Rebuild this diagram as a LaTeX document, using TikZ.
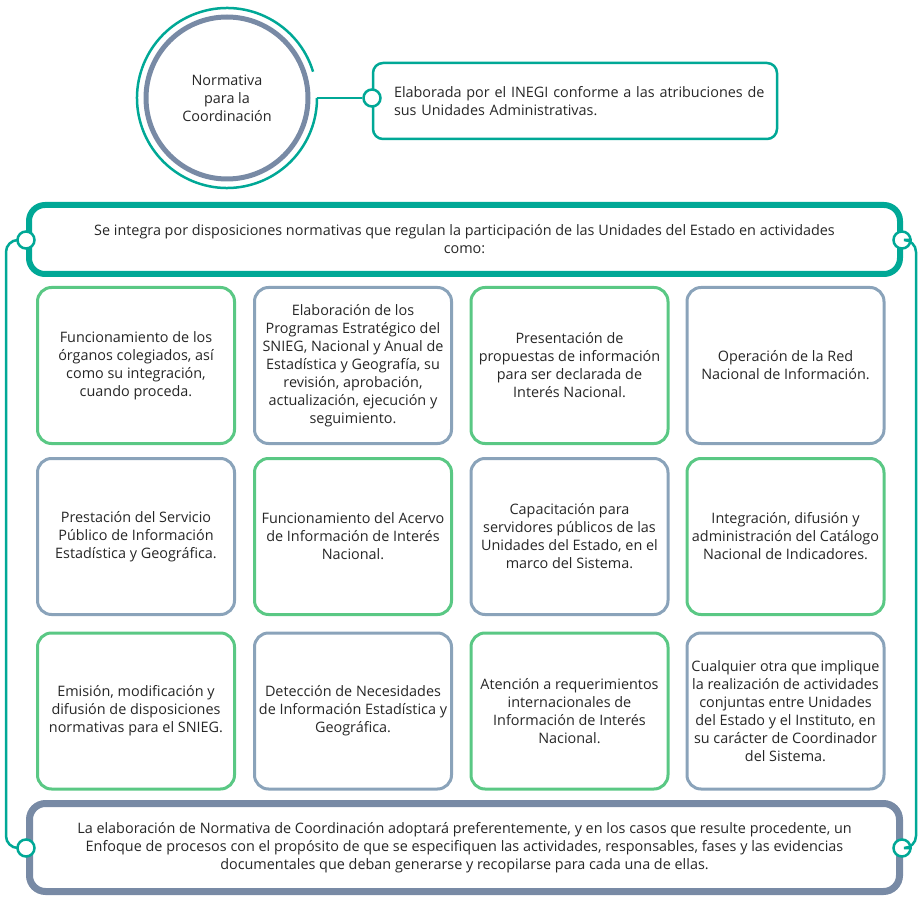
\documentclass[tikz,border=0pt]{standalone}
\usepackage{fontspec}
\setmainfont{Open Sans}
\definecolor{TealClr}{RGB}{0,168,150}
\definecolor{GreenSqr}{RGB}{90,200,132}
\definecolor{GraySqr}{RGB}{138,163,186}
\definecolor{DarkClr}{RGB}{120,138,165}
\definecolor{TextClr}{RGB}{38,38,38}

\begin{document}
\begin{tikzpicture}[x=1pt,y=-1pt,
  every node/.style={font=\fontsize{14.4}{18}\selectfont,text=TextClr,align=center},
  Wire/.style={draw=TealClr,line width=2.5pt},
  Knob/.style={circle,draw=TealClr,fill=white,line width=2.5pt,minimum size=17pt,inner sep=0pt},
  GreenBox/.style={draw=GreenSqr,line width=3pt,rounded corners=14pt,minimum width=197pt,minimum height=156pt,inner sep=2pt},
  GrayBox/.style={draw=GraySqr,line width=3pt,rounded corners=14pt,minimum width=197pt,minimum height=156pt,inner sep=2pt}]
\useasboundingbox (0,0) rectangle (922,904);

\coordinate (HubRim) at (317,98);
\coordinate (RailL) at (6,544);
\coordinate (RailR) at (916,544);

\node[circle,draw=DarkClr,line width=5pt,minimum size=162pt,inner sep=0pt] (Hub) at (227,98) {Normativa\\para la\\Coordinación};
\draw[TealClr,line width=2.5pt] (Hub.center) ++(-17:90) arc[start angle=-17,end angle=-360,radius=90];

\node[draw=TealClr,line width=2.5pt,rounded corners=10pt,minimum width=404pt,minimum height=76pt,
  text width=380pt,inner xsep=12pt,align=left] (Origin) at (575,101)
  {\hspace*{9pt}Elaborada por el INEGI conforme a las atribuciones de\\\hspace*{9pt}sus Unidades Administrativas.};

\node[draw=TealClr,line width=6pt,rounded corners=16pt,minimum width=871pt,minimum height=69pt] (Scope) at (464.5,239.5)
  {Se integra por disposiciones normativas que regulan la participación de las Unidades del Estado en actividades\\como:};

\node[draw=DarkClr,line width=7pt,rounded corners=16pt,minimum width=870pt,minimum height=88pt] (Focus) at (464.5,847.5)
  {La elaboración de Normativa de Coordinación adoptará preferentemente, y en los casos que resulte procedente, un\\Enfoque de procesos con el propósito de que se especifiquen las actividades, responsables, fases y las evidencias\\documentales que deban generarse y recopilarse para cada una de ellas.};

\node[GreenBox] (A1) at (136,365.5) {Funcionamiento de los\\órganos colegiados, así\\como su integración,\\cuando proceda.};
\node[GrayBox] (A2) at (353,365.5) {Elaboración de los\\Programas Estratégico del\\SNIEG, Nacional y Anual de\\Estadística y Geografía, su\\revisión, aprobación,\\actualización, ejecución y\\seguimiento.};
\node[GreenBox] (A3) at (569.5,365.5) {Presentación de\\propuestas de información\\para ser declarada de\\Interés Nacional.};
\node[GrayBox] (A4) at (785.5,365.5) {Operación de la Red\\Nacional de Información.};

\node[GrayBox] (B1) at (136,536.5) {Prestación del Servicio\\Público de Información\\Estadística y Geográfica.};
\node[GreenBox] (B2) at (353,536.5) {Funcionamiento del Acervo\\de Información de Interés\\Nacional.};
\node[GrayBox] (B3) at (569.5,536.5) {Capacitación para\\servidores públicos de las\\Unidades del Estado, en el\\marco del Sistema.};
\node[GreenBox] (B4) at (785.5,536.5) {Integración, difusión y\\administración del Catálogo\\Nacional de Indicadores.};

\node[GreenBox] (C1) at (136,711) {Emisión, modificación y\\difusión de disposiciones\\normativas para el SNIEG.};
\node[GrayBox] (C2) at (353,711) {Detección de Necesidades\\de Información Estadística y\\Geográfica.};
\node[GreenBox] (C3) at (569.5,711) {Atención a requerimientos\\internacionales de\\Información de Interés\\Nacional.};
\node[GrayBox] (C4) at (785.5,711) {Cualquier otra que implique\\la realización de actividades\\conjuntas entre Unidades\\del Estado y el Instituto, en\\su carácter de Coordinador\\del Sistema.};

\node[Knob] (KnobO) at (372,98) {};
\node[Knob] (KnobL) at (26,240) {};
\node[Knob] (KnobR) at (902,240) {};
\node[Knob] (KnobLB) at (26,848) {};
\node[Knob] (KnobRB) at (902,848) {};

\draw[Wire] (HubRim) -- (KnobO);
\draw[Wire,rounded corners=12pt] (KnobL) -| (RailL) |- (KnobLB);
\draw[Wire,rounded corners=12pt] (KnobR) -| (RailR) |- (KnobRB);

\end{tikzpicture}
\end{document}
